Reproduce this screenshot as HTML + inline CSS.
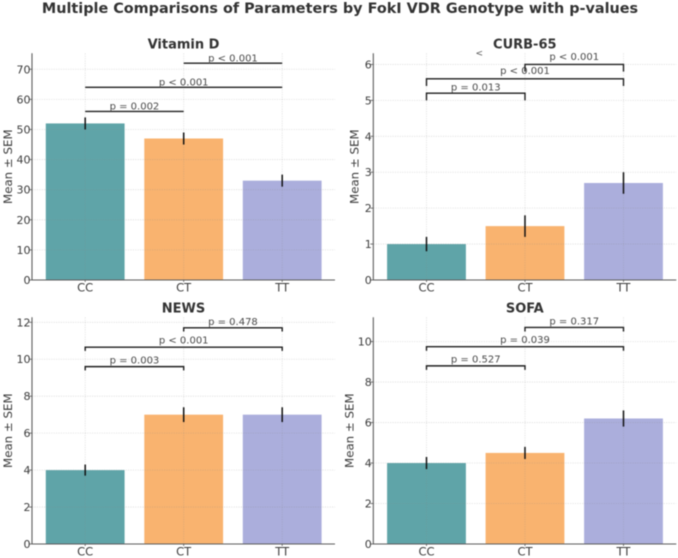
<!DOCTYPE html>
<html lang="en">
<head>
<meta charset="utf-8">
<title>Multiple Comparisons of Parameters by FokI VDR Genotype with p-values</title>
<style>
html,body{margin:0;padding:0;background:#fff;}
body{width:678px;height:558px;overflow:hidden;}
svg{display:block;font-family:"DejaVu Sans","Liberation Sans",sans-serif;filter:blur(0.4px);}
</style>
</head>
<body>
<svg id="chart" xmlns="http://www.w3.org/2000/svg" width="678" height="558" viewBox="0 0 678 558">
  <text x="340" y="13" text-anchor="middle" font-size="14.4" font-weight="700" fill="#333">Multiple Comparisons of Parameters by FokI VDR Genotype with p-values</text>
</svg>
<script>
const categories = ['CC', 'CT', 'TT'];
const colors = ['#5fa4a8', '#f9b36f', '#abaedc'];

const vitaminDMeans = [52, 47, 33];
const vitaminDSem = [2, 2, 2];
const vitaminDTicks = [0, 10, 20, 30, 40, 50, 60, 70];
const vitaminDBrackets = [56, 64, 72];
const vitaminDLabelHeights = [56.6, 64.6, 72.5];
const vitaminDLabels = ['p = 0.002', 'p < 0.001', 'p < 0.001'];

const curbMeans = [1, 1.5, 2.7];
const curbSem = [0.2, 0.3, 0.3];
const curbTicks = [0, 1, 2, 3, 4, 5, 6];
const curbBrackets = [5.2, 5.6, 6.0];
const curbLabelHeights = [5.28, 5.74, 6.13];
const curbLabels = ['p = 0.013', 'p < 0.001', 'p < 0.001'];

const newsMeans = [4, 7, 7];
const newsSem = [0.3, 0.4, 0.4];
const newsTicks = [0, 2, 4, 6, 8, 10, 12];
const newsBrackets = [9.6, 10.65, 11.7];
const newsLabelHeights = [9.78, 10.85, 11.86];
const newsLabels = ['p = 0.003', 'p < 0.001', 'p = 0.478'];

const sofaMeans = [4, 4.5, 6.2];
const sofaSem = [0.3, 0.3, 0.4];
const sofaTicks = [0, 2, 4, 6, 8, 10];
const sofaBrackets = [8.8, 9.75, 10.7];
const sofaLabelHeights = [8.96, 9.92, 10.85];
const sofaLabels = ['p = 0.527', 'p = 0.039', 'p = 0.317'];

const bracketSpans = [[0, 1], [0, 2], [1, 2]];
const bracketDrop = [2, 0.2, 0.2, 0.2];

const svg = document.getElementById('chart');
const NS = 'http://www.w3.org/2000/svg';

function make(tag, attrs, text) {
  const el = document.createElementNS(NS, tag);
  for (const k in attrs) el.setAttribute(k, attrs[k]);
  if (text !== undefined) el.textContent = text;
  return el;
}

function drawPanel(o, idx) {
  const g = make('g', {});
  
  
  svg.appendChild(g);

  const step = 98.5;
  const xs = i => o.left + (i + 0.54) * step;
  const k = (o.y0 - o.top) / o.ymax;
  const ys = v => o.y0 - v * k;
  const right = o.left + 303;
  const halfBar = 0.4 * step;

  // bars
  o.means.forEach((m, i) => {
    const bar = make('rect', {x: xs(i) - halfBar, y: ys(m), width: halfBar * 2, height: o.y0 - ys(m), fill: colors[i]});
    
    
    g.appendChild(bar);
  });

  // gridlines (drawn over the bars, as in the reference)
  o.ticks.forEach(t => {
    const line = make('line', {x1: o.left, x2: right, y1: ys(t), y2: ys(t), stroke: '#8a8a8a', 'stroke-opacity': 0.28, 'stroke-width': 0.8, 'stroke-dasharray': '1.2 1.2'});
    
    
    g.appendChild(line);

    const tick = make('line', {x1: o.left - 3, x2: o.left, y1: ys(t), y2: ys(t), stroke: '#555', 'stroke-width': 0.8});
    
    
    g.appendChild(tick);

    const label = make('text', {x: o.left - 1.5, y: ys(t) + 4, 'text-anchor': 'end', 'font-size': 11, fill: '#3c3c3c'}, String(t));
    
    
    g.appendChild(label);
  });

  categories.forEach((c, i) => {
    const line = make('line', {x1: xs(i), x2: xs(i), y1: o.top, y2: o.y0, stroke: '#8a8a8a', 'stroke-opacity': 0.28, 'stroke-width': 0.8, 'stroke-dasharray': '1.2 1.2'});
    
    
    g.appendChild(line);

    const tick = make('line', {x1: xs(i), x2: xs(i), y1: o.y0, y2: o.y0 + 2, stroke: '#555', 'stroke-width': 0.8});
    
    
    g.appendChild(tick);

    const label = make('text', {x: xs(i), y: o.y0 + 11.7, 'text-anchor': 'middle', 'font-size': 11.5, fill: '#3c3c3c'}, c);
    
    
    g.appendChild(label);
  });

  // spines
  const spineY = make('line', {x1: o.left, x2: o.left, y1: o.top, y2: o.y0 + 0.5, stroke: '#5c5c5c', 'stroke-width': 1.1});
  
  
  g.appendChild(spineY);
  const spineX = make('line', {x1: o.left, x2: right, y1: o.y0, y2: o.y0, stroke: '#5c5c5c', 'stroke-width': 1.1});
  
  
  g.appendChild(spineX);

  // error bars
  o.means.forEach((m, i) => {
    const err = make('line', {x1: xs(i), x2: xs(i), y1: ys(m - o.sem[i]), y2: ys(m + o.sem[i]), stroke: '#111', 'stroke-width': 1.5});
    
    
    g.appendChild(err);
  });

  // significance brackets
  o.brackets.forEach((h, b) => {
    const a = xs(bracketSpans[b][0]);
    const z = xs(bracketSpans[b][1]);
    const low = ys(h - bracketDrop[idx]);
    const path = make('path', {d: 'M' + a + ' ' + (idx === 0 ? ys(h) : low) + 'V' + ys(h) + 'H' + z + 'V' + (idx === 0 ? ys(h) : low), fill: 'none', stroke: '#1f1f1f', 'stroke-width': 1.4});
    
    
    g.appendChild(path);

    const label = make('text', {x: (a + z) / 2, y: ys(o.labelHeights[b]), 'text-anchor': 'middle', 'font-size': 10, fill: '#4a4a4a'}, o.labels[b]);
    
    
    g.appendChild(label);
  });

  // titles
  const title = make('text', {x: o.left + 151.5, y: o.top - 5, 'text-anchor': 'middle', 'font-size': 13, 'font-weight': 700, fill: '#333'}, o.title);
  
  
  g.appendChild(title);

  const yc = (o.top + o.y0) / 2;
  const yx = o.left - o.yTitleGap;
  const yTitle = make('text', {x: yx, y: yc, 'text-anchor': 'middle', 'font-size': 11.8, fill: '#3c3c3c', transform: 'rotate(-90 ' + yx + ' ' + yc + ')'}, 'Mean ± SEM');
  
  
  g.appendChild(yTitle);

  return {g: g, xs: xs, ys: ys};
}

const vitaminPanel = drawPanel({slug: 'vitamin-d', title: 'Vitamin D', left: 32, top: 53.3, y0: 280, ymax: 75.3, yTitleGap: 20, means: vitaminDMeans, sem: vitaminDSem, ticks: vitaminDTicks, brackets: vitaminDBrackets, labelHeights: vitaminDLabelHeights, labels: vitaminDLabels}, 0);
const curbPanel = drawPanel({slug: 'curb-65', title: 'CURB-65', left: 373.3, top: 53.3, y0: 280, ymax: 6.31, yTitleGap: 15, means: curbMeans, sem: curbSem, ticks: curbTicks, brackets: curbBrackets, labelHeights: curbLabelHeights, labels: curbLabels}, 1);
const newsPanel = drawPanel({slug: 'news', title: 'NEWS', left: 32, top: 317.3, y0: 544, ymax: 12.27, yTitleGap: 20, means: newsMeans, sem: newsSem, ticks: newsTicks, brackets: newsBrackets, labelHeights: newsLabelHeights, labels: newsLabels}, 2);
const sofaPanel = drawPanel({slug: 'sofa', title: 'SOFA', left: 373.3, top: 317.3, y0: 544, ymax: 11.2, yTitleGap: 20, means: sofaMeans, sem: sofaSem, ticks: sofaTicks, brackets: sofaBrackets, labelHeights: sofaLabelHeights, labels: sofaLabels}, 3);

const strayMark = make('text', {x: 479.3, y: 56, 'text-anchor': 'middle', 'font-size': 9, fill: '#555'}, '<');


curbPanel.g.appendChild(strayMark);
</script>
</body>
</html>
